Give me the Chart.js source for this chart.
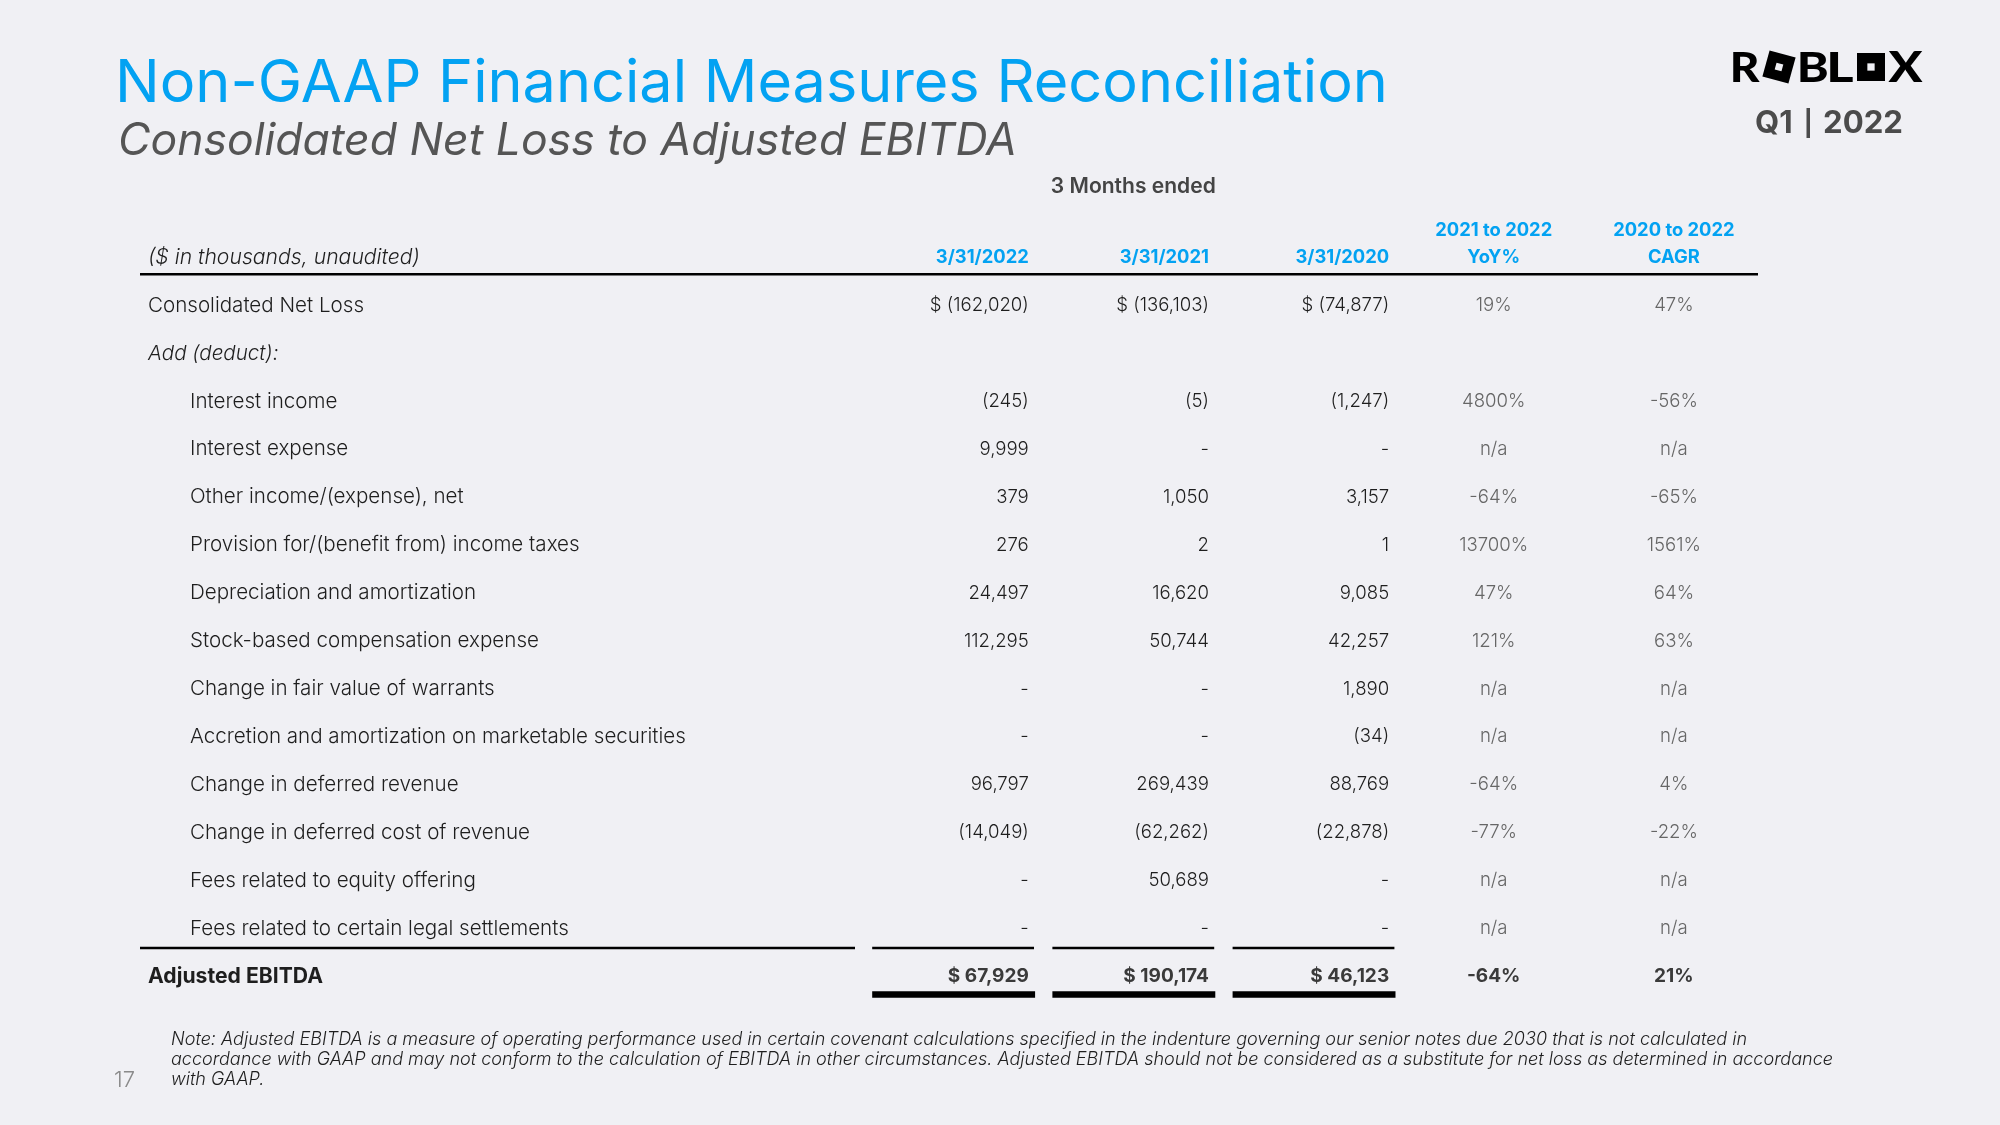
<!DOCTYPE html>
<html>
<head>
<meta charset="utf-8">
<script src="https://cdn.jsdelivr.net/npm/chart.js@4.4.1/dist/chart.umd.min.js"></script>
<style>
html,body{margin:0;padding:0;background:#f0f0f4;}
#wrap{width:2000px;height:1125px;position:relative;}
</style>
</head>
<body>
<div id="wrap"><canvas id="c" width="2000" height="1125"></canvas></div>
<script>
// ---------------- DATA ----------------
const rowLabels = [
  'Consolidated Net Loss',
  'Add (deduct):',
  'Interest income',
  'Interest expense',
  'Other income/(expense), net',
  'Provision for/(benefit from) income taxes',
  'Depreciation and amortization',
  'Stock-based compensation expense',
  'Change in fair value of warrants',
  'Accretion and amortization on marketable securities',
  'Change in deferred revenue',
  'Change in deferred cost of revenue',
  'Fees related to equity offering',
  'Fees related to certain legal settlements',
  'Adjusted EBITDA'
];
const rowKind = ['main','section','item','item','item','item','item','item','item','item','item','item','item','item','total'];
const columnKeys = ['3/31/2022','3/31/2021','3/31/2020','YoY%','CAGR'];
const periodHeaders = ['3/31/2022','3/31/2021','3/31/2020'];
const growthHeaders = [['2021 to 2022','YoY%'],['2020 to 2022','CAGR']];
// 0 = "-" ; null = blank
const q1_2022 = [-162020, null, -245, 9999, 379, 276, 24497, 112295, 0, 0, 96797, -14049, 0, 0, 67929];
const q1_2021 = [-136103, null, -5, 0, 1050, 2, 16620, 50744, 0, 0, 269439, -62262, 50689, 0, 190174];
const q1_2020 = [-74877, null, -1247, 0, 3157, 1, 9085, 42257, 1890, -34, 88769, -22878, 0, 0, 46123];
// null = n/a
const yoyPct  = [19, null, 4800, null, -64, 13700, 47, 121, null, null, -64, -77, null, null, -64];
const cagrPct = [47, null, -56, null, -65, 1561, 64, 63, null, null, 4, -22, null, null, 21];

const titleText = 'Non-GAAP Financial Measures Reconciliation';
const subtitleText = 'Consolidated Net Loss to Adjusted EBITDA';
const periodParts = ['Q1', '2022'];
const groupHeader = '3 Months ended';
const unitsText = '($ in thousands, unaudited)';
const noteLines = [
  'Note: Adjusted EBITDA is a measure of operating performance used in certain covenant calculations specified in the indenture governing our senior notes due 2030 that is not calculated in',
  'accordance with GAAP and may not conform to the calculation of EBITDA in other circumstances. Adjusted EBITDA should not be considered as a substitute for net loss as determined in accordance',
  'with GAAP.'
];
const pageNumber = '17';

// ---------------- STYLE ----------------
const FAM = "Inter, 'Open Sans', 'Noto Sans', sans-serif";
const BG = '#f0f0f4';
const BLUE = '#03a2f2';
const DARK = '#1e1e1e';
const GREY = '#666666';
const TOTAL = '#3a3a3a';

function fmtNum(n){ return Math.abs(n).toLocaleString('en-US'); }
function fmtMoney(v, dollar){
  if (v === null || v === undefined) return '';
  if (v === 0) return '-';
  const s = v < 0 ? '(' + fmtNum(v) + ')' : fmtNum(v);
  return dollar ? '$ ' + s : s;
}
function fmtPct(v){ return v === null ? 'n/a' : v + '%'; }

function sizeFor(ctx, text, target, weight, style){
  ctx.font = `${style||'normal'} ${weight} 100px ${FAM}`;
  return 100 * target / ctx.measureText(text).width;
}
function setFont(ctx, size, weight, style){
  ctx.font = `${style||'normal'} ${weight} ${size.toFixed(2)}px ${FAM}`;
}
function hline(ctx, x1, x2, y, w){
  ctx.beginPath(); ctx.lineWidth = w; ctx.strokeStyle = '#000';
  ctx.moveTo(x1, y); ctx.lineTo(x2, y); ctx.stroke();
}

function drawLogo(ctx){
  const top = 52, bot = 82, h = bot - top;
  const letters = [['R',1733,1760],['B',1800,1827],['L',1830,1853],['X',1888,1923]];
  ctx.save();
  ctx.fillStyle = '#000';
  ctx.textBaseline = 'alphabetic';
  ctx.textAlign = 'left';
  letters.forEach(([ch,x1,x2]) => {
    ctx.font = `900 100px Lato, ${FAM}`;
    const m = ctx.measureText(ch);
    const w = m.actualBoundingBoxRight + m.actualBoundingBoxLeft;
    const asc = m.actualBoundingBoxAscent;
    ctx.save();
    ctx.translate(x1, bot);
    ctx.scale((x2-x1)/w, h/asc);
    ctx.fillText(ch, m.actualBoundingBoxLeft, 0);
    ctx.restore();
  });
  const drawO = (cx, cy, s, ang) => {
    ctx.save(); ctx.translate(cx, cy); ctx.rotate(ang);
    ctx.fillStyle = '#000'; ctx.fillRect(-s/2, -s/2, s, s);
    ctx.fillStyle = BG; ctx.fillRect(-s*0.13, -s*0.13, s*0.26, s*0.26);
    ctx.restore();
  };
  drawO(1779, 67, 27, 0.27);
  drawO(1871, 67, 28, 0);
  ctx.restore();
}

const tablePlugin = {
  id: 'tableText',
  beforeDraw(chart){
    const c = chart.ctx; c.save(); c.fillStyle = BG; c.fillRect(0,0,chart.width,chart.height); c.restore();
  },
  afterDraw(chart){
    const ctx = chart.ctx;
    const xs = chart.scales.x, ys = chart.scales.y;
    const pitchX = xs.getPixelForValue(1) - xs.getPixelForValue(0);
    const pitchY = ys.getPixelForValue(1) - ys.getPixelForValue(0);
    const colC = j => xs.getPixelForValue(j);
    const colR = j => colC(j) + pitchX * 0.42;
    const dy = 1.5;
    const rowY = i => ys.getPixelForValue(i) + dy;
    const y0 = rowY(0);
    const labelX = 148, indentX = 190;

    // sizes calibrated to reference widths
    const bodySize  = sizeFor(ctx, 'Consolidated Net Loss', 216, 300);
    const numSize   = sizeFor(ctx, '$ (162,020)', 99, 300);
    const boldSize  = sizeFor(ctx, 'Adjusted EBITDA', 175, 700);
    const boldNum   = sizeFor(ctx, '$ 67,929', 81, 700);
    const hdrSize   = sizeFor(ctx, '3/31/2022', 93, 700);
    const grpSize   = sizeFor(ctx, groupHeader, 165, 600);
    const itSize    = sizeFor(ctx, unitsText, 272, 300, 'italic');
    const noteSize  = sizeFor(ctx, noteLines[1], 1664, 300, 'italic');
    const titleSize = sizeFor(ctx, titleText, 1273, 400);
    const subSize   = sizeFor(ctx, subtitleText, 899, 400, 'italic');
    const perSize   = sizeFor(ctx, '2022', 80, 700);

    ctx.save();
    // Title block
    ctx.textBaseline = 'alphabetic'; ctx.textAlign = 'left';
    setFont(ctx, titleSize, 400); ctx.fillStyle = BLUE; ctx.fillText(titleText, 115, 102);
    setFont(ctx, subSize, 400, 'italic'); ctx.fillStyle = '#555555'; ctx.fillText(subtitleText, 118, 155);
    drawLogo(ctx);
    ctx.fillStyle = '#4b4b4b';
    setFont(ctx, perSize, 700);
    ctx.textAlign = 'left'; ctx.fillText(periodParts[0], 1755, 133);
    ctx.fillRect(1806.5, 108, 3.5, 30);
    ctx.textAlign = 'right'; ctx.fillText(periodParts[1], 1903, 133);

    // headers
    ctx.textBaseline = 'middle';
    const hy = y0 - pitchY;
    setFont(ctx, grpSize, 600); ctx.fillStyle = '#444444'; ctx.textAlign = 'center';
    ctx.fillText(groupHeader, colC(1), hy - 71);
    setFont(ctx, itSize, 300, 'italic'); ctx.fillStyle = DARK; ctx.textAlign = 'left';
    ctx.fillText(unitsText, labelX, hy);
    setFont(ctx, hdrSize, 700); ctx.fillStyle = BLUE;
    ctx.textAlign = 'right';
    periodHeaders.forEach((t, j) => ctx.fillText(t, colR(j), hy));
    ctx.textAlign = 'center';
    growthHeaders.forEach((lines, k) => {
      ctx.fillText(lines[0], colC(3 + k), hy - 27);
      ctx.fillText(lines[1], colC(3 + k), hy);
    });
    hline(ctx, 140, xs.right - 6, ys.getPixelForValue(0) - 0.62 * pitchY, 2.5);

    // rows
    const series = [q1_2022, q1_2021, q1_2020];
    const growth = [yoyPct, cagrPct];
    rowLabels.forEach((lab, i) => {
      const y = rowY(i);
      const kind = rowKind[i];
      ctx.fillStyle = DARK; ctx.textAlign = 'left';
      if (kind === 'total') setFont(ctx, boldSize, 700);
      else if (kind === 'section') setFont(ctx, bodySize, 300, 'italic');
      else setFont(ctx, bodySize, 300);
      ctx.fillText(lab, kind === 'item' ? indentX : labelX, y);
      if (kind === 'section') return;
      const dollar = kind === 'main' || kind === 'total';
      ctx.textAlign = 'right';
      if (kind === 'total') { setFont(ctx, boldNum, 700); ctx.fillStyle = TOTAL; }
      else setFont(ctx, numSize, 300);
      series.forEach((s, j) => ctx.fillText(fmtMoney(s[i], dollar), colR(j), y));
      ctx.textAlign = 'center';
      if (kind === 'total') { setFont(ctx, boldNum, 700); ctx.fillStyle = TOTAL; }
      else { setFont(ctx, numSize, 300); ctx.fillStyle = GREY; }
      growth.forEach((g, k) => ctx.fillText(fmtPct(g[i]), colC(3 + k), y));
    });

    // total rules
    const n = rowLabels.length;
    const yPre = (ys.getPixelForValue(n - 2) + ys.getPixelForValue(n - 1)) / 2 - 3;
    const yPost = ys.getPixelForValue(n - 1) + 19.5;
    hline(ctx, 140, 855, yPre, 2.5);
    for (let j = 0; j < 3; j++) {
      hline(ctx, colC(j) - pitchX * 0.449, colC(j) + pitchX * 0.449, yPre, 2.5);
      hline(ctx, colC(j) - pitchX * 0.449, colC(j) + pitchX * 0.455, yPost, 6.5);
    }

    // note
    ctx.textBaseline = 'alphabetic'; ctx.textAlign = 'left';
    setFont(ctx, noteSize, 300, 'italic'); ctx.fillStyle = DARK;
    noteLines.forEach((t, k) => ctx.fillText(t, 171, 1045 + k * 20));
    setFont(ctx, 22, 300); ctx.fillStyle = '#8a8a8a';
    ctx.fillText(pageNumber, 114, 1087);
    ctx.restore();
  }
};

const chart = new Chart(document.getElementById('c').getContext('2d'), {
  type: 'bar',
  data: { labels: columnKeys, datasets: [] },
  options: {
    responsive: false,
    animation: false,
    devicePixelRatio: 1,
    layout: { padding: { left: 863, right: 236, top: 280, bottom: 126 } },
    plugins: { legend: { display: false }, tooltip: { enabled: false } },
    scales: {
      x: { type: 'category', labels: columnKeys, offset: true, display: false },
      y: { type: 'category', labels: rowLabels, offset: true, display: false }
    }
  },
  plugins: [tablePlugin]
});
</script>
</body>
</html>
